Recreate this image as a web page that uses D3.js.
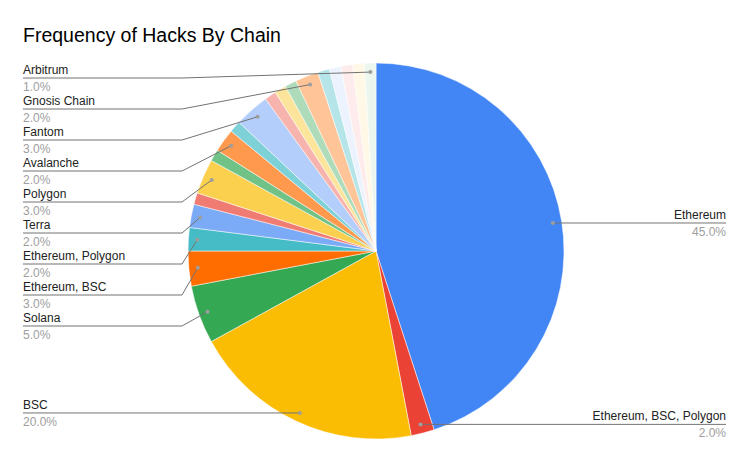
<!DOCTYPE html>
<html>
<head>
<meta charset="utf-8">
<script src="https://cdn.jsdelivr.net/npm/d3@7"></script>
<style>
  body { margin: 0; background: #fff; }
  svg { font-family: "Liberation Sans", Arial, sans-serif; }
</style>
</head>
<body>
<div id="chart"></div>
<script>
// chain names, clockwise from 12 o'clock (small unnamed slices kept as "Other ...")
const chains = ["Ethereum", "Ethereum, BSC, Polygon", "BSC", "Solana", "Ethereum, BSC",
    "Ethereum, Polygon", "Terra", "Other 1", "Polygon", "Other 2", "Avalanche", "Other 3",
    "Fantom", "Other 4", "Other 5", "Other 6", "Gnosis Chain", "Other 7", "Other 8",
    "Other 9", "Other 10", "Arbitrum"];
const shares = [45, 2, 20, 5, 3, 2, 2, 1, 3, 1, 2, 1, 3, 1, 1, 1, 2, 1, 1, 1, 1, 1];
const colors = ["#4285f4", "#ea4335", "#fbbc04", "#34a853", "#ff6d01", "#46bdc6", "#7baaf7",
    "#f07b72", "#fcd04f", "#71c287", "#ff994d", "#7ed1d7", "#b3cefb", "#f7b4ae", "#fde49b",
    "#aedcba", "#ffc599", "#b5e5e8", "#ecf3fe", "#fdeceb", "#fff8e6", "#ebf6ee"];
// slices that get a callout label
const labelled = ["Ethereum", "Ethereum, BSC, Polygon", "BSC", "Solana", "Ethereum, BSC",
    "Ethereum, Polygon", "Terra", "Polygon", "Avalanche", "Fantom", "Gnosis Chain", "Arbitrum"];

const width = 750, height = 463;
const cx = 376, cy = 251, radius = 188;

const svg = d3.select("#chart").append("svg")
    .attr("width", width)
    .attr("height", height);

svg.append("text")
    .attr("x", 23)
    .attr("y", 42)
    .attr("font-size", 19.5)
    .attr("fill", "#000")
    .text("Frequency of Hacks By Chain");

const data = chains.map((c, i) => ({ name: c, value: shares[i], color: colors[i] }));
const total = d3.sum(shares);

const pie = d3.pie().sort(null).value(d => d.value);
const arcs = pie(data);

const arc = d3.arc().innerRadius(0).outerRadius(radius);
const dotArc = d3.arc().innerRadius(179).outerRadius(179);

const g = svg.append("g").attr("transform", "translate(" + cx + "," + cy + ")");

g.selectAll(".slice")
    .data(arcs)
    .enter().append("path")
    .attr("class", "slice")
    .attr("d", arc)
    .attr("fill", d => d.data.color)
    .attr("stroke", "#fff")
    .attr("stroke-width", 0.5);

// callout layout
const fmt = d3.format(".1f");
let callouts = arcs.filter(a => labelled.includes(a.data.name)).map(a => {
    const p = dotArc.centroid(a);
    return { a: a, x: p[0] + cx, y: p[1] + cy, right: p[0] > 0 };
});

// left side: stack from the top, 31px apart
const left = callouts.filter(c => !c.right).sort((a, b) => a.y - b.y);
let prev = 78 - 31;
left.forEach(c => {
    c.ly = Math.max(c.y, prev + 31);
    prev = c.ly;
});
callouts.filter(c => c.right).forEach(c => { c.ly = c.y; });

const lab = svg.append("g");
callouts.forEach(c => {
    const pts = c.right
        ? [[c.x, c.y], [726, c.ly]]
        : [[23, c.ly], [Math.min(182, c.x), c.ly], [c.x, c.y]];
    lab.append("path")
        .attr("d", d3.line()(pts))
        .attr("fill", "none")
        .attr("stroke", "#737373")
        .attr("stroke-width", 1);
    lab.append("circle")
        .attr("cx", c.x).attr("cy", c.y).attr("r", 2)
        .attr("fill", "#9e9e9e");
    const tx = c.right ? 726 : 23;
    const anchor = c.right ? "end" : "start";
    lab.append("text")
        .attr("x", tx).attr("y", c.ly - 4)
        .attr("text-anchor", anchor)
        .attr("font-size", 12)
        .attr("fill", "#222")
        .text(c.a.data.name);
    lab.append("text")
        .attr("x", tx).attr("y", c.ly + 13)
        .attr("text-anchor", anchor)
        .attr("font-size", 12)
        .attr("fill", "#9e9e9e")
        .text(fmt(c.a.data.value / total * 100) + "%");
});
</script>
</body>
</html>
